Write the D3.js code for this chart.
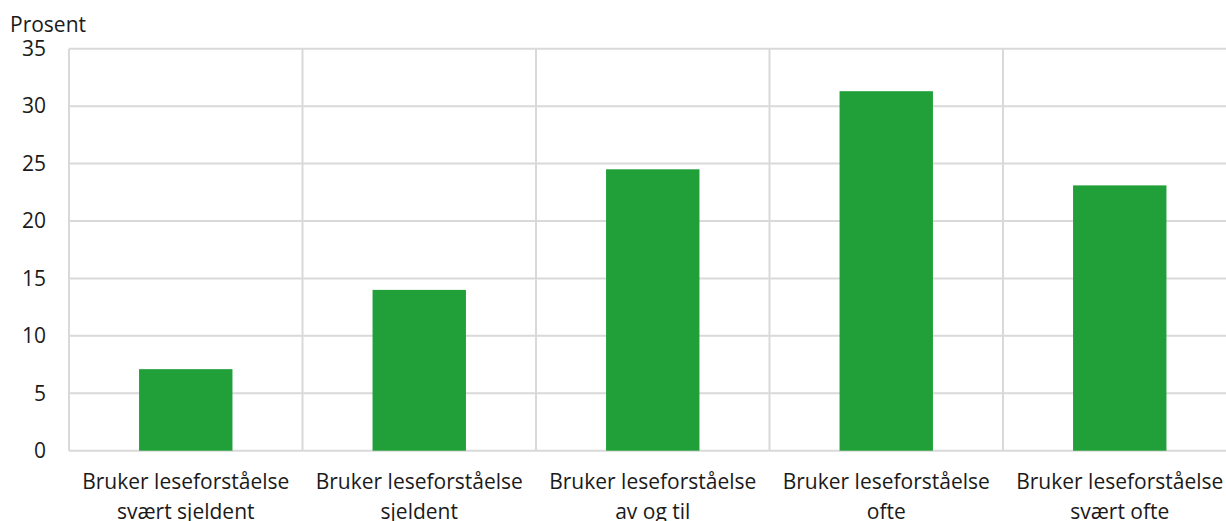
<!DOCTYPE html>
<html><head><meta charset="utf-8">
<script src="https://cdn.jsdelivr.net/npm/d3@7"></script>
<style>body{margin:0;background:#fff;overflow:hidden}svg{display:block;font-family:"Open Sans",sans-serif}</style>
</head><body>
<svg id="c" width="1226" height="521"></svg>
<script>
const categories = [
  ["Bruker leseforståelse","svært sjeldent"],
  ["Bruker leseforståelse","sjeldent"],
  ["Bruker leseforståelse","av og til"],
  ["Bruker leseforståelse","ofte"],
  ["Bruker leseforståelse","svært ofte"]
];
const values = [7.1, 14.0, 24.5, 31.3, 23.1];
const yTicks = [0, 5, 10, 15, 20, 25, 30, 35];
const yTitle = "Prosent";

const svg = d3.select("#c");
const m = {left: 69, top: 48.7, bottom: 450.7};
const bandW = 233.5;
const x = d3.scaleBand().domain(d3.range(categories.length))
  .range([m.left, m.left + bandW * categories.length]).paddingInner(0).paddingOuter(0);
const y = d3.scaleLinear().domain([0, 35]).range([m.bottom, m.top]);

const grid = "#d9d9d9";
svg.append("g").selectAll("line").data(yTicks).join("line")
  .attr("x1", m.left).attr("x2", x.range()[1])
  .attr("y1", d => y(d)).attr("y2", d => y(d))
  .attr("stroke", grid).attr("stroke-width", 2);
svg.append("g").selectAll("line").data(d3.range(categories.length + 1)).join("line")
  .attr("x1", d => m.left + d * x.bandwidth()).attr("x2", d => m.left + d * x.bandwidth())
  .attr("y1", m.top).attr("y2", m.bottom)
  .attr("stroke", grid).attr("stroke-width", 2);

const bw = x.bandwidth() * 0.4;
svg.append("g").selectAll("rect").data(values).join("rect")
  .attr("x", (d, i) => x(i) + x.bandwidth() / 2 - bw / 2)
  .attr("width", bw)
  .attr("y", d => y(d))
  .attr("height", d => y(0) - y(d))
  .attr("fill", "#21a03a");

svg.append("g").selectAll("text").data(yTicks).join("text")
  .attr("x", 46).attr("y", d => y(d)).attr("dy", "0.35em")
  .attr("text-anchor", "end").attr("font-size", 21).attr("fill", "#1a1a1a")
  .text(d => d);

svg.append("text").attr("x", 10).attr("y", 32).attr("font-size", 21).attr("fill", "#1a1a1a").text(yTitle);

const xl = svg.append("g").selectAll("text").data(categories).join("text")
  .attr("text-anchor", "middle").attr("font-size", 21).attr("fill", "#1a1a1a")
  .attr("transform", (d, i) => `translate(${x(i) + x.bandwidth() / 2},0)`);
xl.selectAll("tspan").data(d => d).join("tspan")
  .attr("x", 0).attr("y", (d, j) => 489 + j * 30).text(d => d);
</script>
</body></html>
